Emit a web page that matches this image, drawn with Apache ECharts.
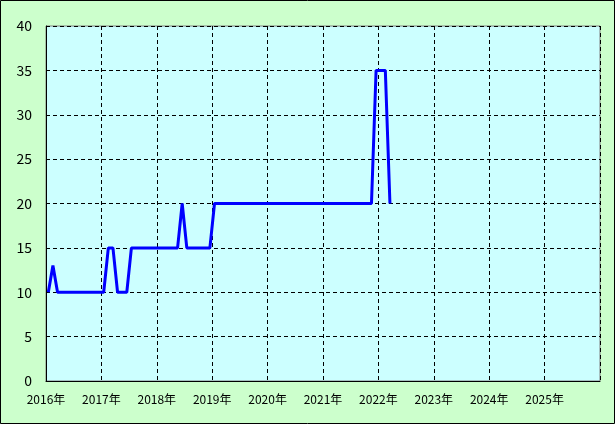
<!DOCTYPE html>
<html><head><meta charset="utf-8">
<script src="https://cdn.jsdelivr.net/npm/echarts@6/dist/echarts.min.js"></script>
<style>html,body{margin:0;padding:0;background:#ccffcc}#c{width:615px;height:424px}</style>
</head><body><div id="c"></div>
<script>
const months = [
 '2016-01','2016-02','2016-03','2016-04','2016-05','2016-06','2016-07','2016-08','2016-09','2016-10','2016-11','2016-12',
 '2017-01','2017-02','2017-03','2017-04','2017-05','2017-06','2017-07','2017-08','2017-09','2017-10','2017-11','2017-12',
 '2018-01','2018-02','2018-03','2018-04','2018-05','2018-06','2018-07','2018-08','2018-09','2018-10','2018-11','2018-12',
 '2019-01','2019-02','2019-03','2019-04','2019-05','2019-06','2019-07','2019-08','2019-09','2019-10','2019-11','2019-12',
 '2020-01','2020-02','2020-03','2020-04','2020-05','2020-06','2020-07','2020-08','2020-09','2020-10','2020-11','2020-12',
 '2021-01','2021-02','2021-03','2021-04','2021-05','2021-06','2021-07','2021-08','2021-09','2021-10','2021-11','2021-12',
 '2022-01','2022-02','2022-03'
];
const values = [
 10,13,10,10,10,10,10,10,10,10,10,10,
 10,15,15,10,10,10,15,15,15,15,15,15,
 15,15,15,15,15,20,15,15,15,15,15,15,
 20,20,20,20,20,20,20,20,20,20,20,20,
 20,20,20,20,20,20,20,20,20,20,20,20,
 20,20,20,20,20,20,20,20,20,20,20,35,
 35,35,20
];
const yearTicks = [2016,2017,2018,2019,2020,2021,2022,2023,2024,2025,2026];
const yTicks = [0,5,10,15,20,25,30,35,40];

const data = months.map((m,i)=>{
  const [y,mo]=m.split('-').map(Number);
  return [y+(mo-0.5)/12, values[i]];
});
const font = "'Noto Sans CJK JP', sans-serif";
const chart = echarts.init(document.getElementById('c'));
chart.setOption({
  animation:false,
  backgroundColor:'#ccffcc',
  grid:{left:46,top:26,right:15,bottom:43,show:true,backgroundColor:'#ccffff',borderColor:'#808080',borderWidth:1},
  xAxis:{type:'value',min:yearTicks[0],max:yearTicks[yearTicks.length-1],interval:1,
    axisLine:{lineStyle:{color:'#000',width:1}},axisTick:{show:false},
    axisLabel:{color:'#000',fontFamily:font,fontSize:12,margin:12,
      formatter:v=> (v<2026? v+'年':''),showMaxLabel:false},
    splitLine:{show:true,lineStyle:{color:'#000',type:[4,3],width:1}}},
  yAxis:{type:'value',min:yTicks[0],max:yTicks[yTicks.length-1],interval:5,
    axisLine:{show:true,lineStyle:{color:'#000',width:1}},axisTick:{show:false},
    axisLabel:{color:'#000',fontFamily:font,fontSize:14,margin:14},
    splitLine:{show:true,lineStyle:{color:'#000',type:[4,3],width:1}}},
  graphic:[{type:'rect',shape:{x:0.5,y:0.5,width:614,height:423},style:{fill:null,stroke:'#000',lineWidth:1},z:100}],
  series:[{type:'line',data:data,showSymbol:false,lineStyle:{color:'#0000ff',width:3},clip:true}]
});
</script></body></html>
